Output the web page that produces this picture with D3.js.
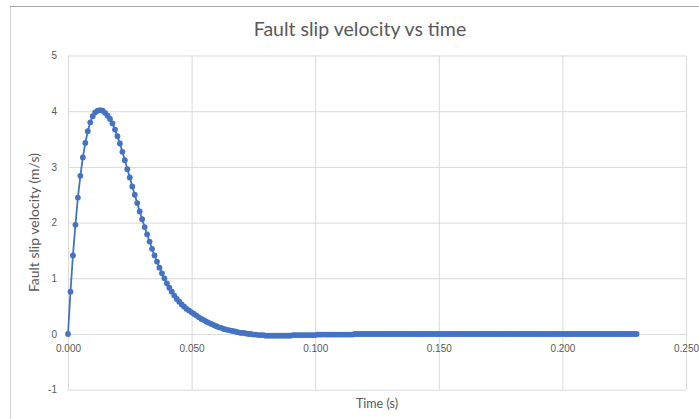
<!doctype html>
<html>
  <head>
    <meta charset="utf-8">
    <style>
      body { margin: 0; background: #fff; }
      svg { font-family: Lato, 'Open Sans', sans-serif; }
      .grid line { stroke: #d9d9d9; }
      .grid path { display: none; }
      .lbl path, .lbl line { display: none; }
      .lbl text { fill: #595959; font-size: 10px; }
    </style>
    <script src="https://d3js.org/d3.v7.min.js"></script>
  </head>
  <body>
    <svg width="699" height="419"></svg>
    <script>
      // time in seconds, one sample per millisecond
      var timeStart = 0, timeStep = 0.001;
      var velocity = [
        0, 0.76, 1.41, 1.96, 2.45, 2.84, 3.17, 3.43, 3.64, 3.80,
        3.91, 3.98, 4.01, 4.02, 4.01, 3.97, 3.92, 3.86, 3.78, 3.67,
        3.55, 3.42, 3.27, 3.12, 2.96, 2.81, 2.65, 2.50, 2.35, 2.20,
        2.06, 1.92, 1.79, 1.66, 1.53, 1.41, 1.30, 1.19, 1.09, 1.00,
        0.91, 0.83, 0.76, 0.69, 0.63, 0.58, 0.53, 0.49, 0.45, 0.42,
        0.39, 0.36, 0.33, 0.30, 0.27, 0.25, 0.22, 0.20, 0.18, 0.16,
        0.14, 0.12, 0.11, 0.09, 0.08, 0.07, 0.06, 0.05, 0.04, 0.03,
        0.02, 0.02, 0.01, 0.00, 0.00, -0.01, -0.01, -0.02, -0.02, -0.02,
        -0.03, -0.03, -0.03, -0.03, -0.03, -0.03, -0.03, -0.03, -0.03, -0.03,
        -0.03, -0.02, -0.02, -0.02, -0.02, -0.02, -0.02, -0.02, -0.02, -0.02,
        -0.02, -0.01, -0.01, -0.01, -0.01, -0.01, -0.01, -0.01, -0.01, -0.01,
        -0.01, -0.01, -0.01, -0.01, -0.01, -0.01, 0.00, 0.00, 0.00, 0.00,
        0.00, 0.00, 0.00, 0.00, 0.00, 0.00, 0.00, 0.00, 0.00, 0.00,
        0.00, 0.00, 0.00, 0.00, 0.00, 0.00, 0.00, 0.00, 0.00, 0.00,
        0.00, 0.00, 0.00, 0.00, 0.00, 0.00, 0.00, 0.00, 0.00, 0.00,
        0.00, 0.00, 0.00, 0.00, 0.00, 0.00, 0.00, 0.00, 0.00, 0.00,
        0.00, 0.00, 0.00, 0.00, 0.00, 0.00, 0.00, 0.00, 0.00, 0.00,
        0.00, 0.00, 0.00, 0.00, 0.00, 0.00, 0.00, 0.00, 0.00, 0.00,
        0.00, 0.00, 0.00, 0.00, 0.00, 0.00, 0.00, 0.00, 0.00, 0.00,
        0.00, 0.00, 0.00, 0.00, 0.00, 0.00, 0.00, 0.00, 0.00, 0.00,
        0.00, 0.00, 0.00, 0.00, 0.00, 0.00, 0.00, 0.00, 0.00, 0.00,
        0.00, 0.00, 0.00, 0.00, 0.00, 0.00, 0.00, 0.00, 0.00, 0.00,
        0.00, 0.00, 0.00, 0.00, 0.00, 0.00, 0.00, 0.00, 0.00, 0.00,
        0.00
      ];
      var xTicks = [0, 0.05, 0.1, 0.15, 0.2, 0.25];
      var yTicks = [-1, 0, 1, 2, 3, 4, 5];

      var data = velocity.map(function(v, i) {
        return { t: timeStart + i * timeStep, v: v };
      });

      var svg = d3.select("svg");
      var plotLeft = 68, plotRight = 686, plotTop = 55.5, plotBottom = 389.7;

      var x = d3.scaleLinear().domain([0, 0.25]).range([plotLeft, plotRight]);
      var y = d3.scaleLinear().domain([-1, 5]).range([plotBottom, plotTop]);

      // outer chart border
      svg.append("rect")
        .attr("x", 10.5).attr("y", 6.5)
        .attr("width", 720).attr("height", 460)
        .attr("fill", "none").attr("stroke", "#d0d0d0");
      svg.append("line")
        .attr("x1", 10).attr("x2", 699).attr("y1", 6.5).attr("y2", 6.5)
        .attr("stroke", "#a6a6a6");

      // gridlines
      svg.append("g").attr("class", "grid")
        .attr("transform", "translate(0," + plotBottom + ")")
        .call(d3.axisBottom(x).tickValues(xTicks).tickSize(-(plotBottom - plotTop)).tickFormat(""));
      svg.append("g").attr("class", "grid")
        .attr("transform", "translate(" + plotLeft + ",0)")
        .call(d3.axisLeft(y).tickValues(yTicks).tickSize(-(plotRight - plotLeft)).tickFormat(""));

      // tick labels
      svg.append("g").attr("class", "lbl")
        .attr("transform", "translate(0," + y(0) + ")")
        .call(d3.axisBottom(x).tickValues(xTicks).tickSize(0).tickPadding(11)
              .tickFormat(d3.format(".3f")));
      svg.append("g").attr("class", "lbl")
        .attr("transform", "translate(" + plotLeft + ",0)")
        .call(d3.axisLeft(y).tickValues(yTicks).tickSize(0).tickPadding(11)
              .tickFormat(function(d){ return String(d); }));

      // series
      var line = d3.line().x(function(d){ return x(d.t); }).y(function(d){ return y(d.v); });
      svg.append("path").datum(data)
        .attr("d", line)
        .attr("fill", "none").attr("stroke", "#4472c4").attr("stroke-width", 1.8);
      svg.append("g").selectAll("circle")
        .data(data)
        .enter().append("circle")
        .attr("cx", function(d){ return x(d.t); })
        .attr("cy", function(d){ return y(d.v); })
        .attr("r", 2.9)
        .attr("fill", "#4472c4");

      // titles
      svg.append("text")
        .attr("x", 360).attr("y", 36)
        .attr("text-anchor", "middle")
        .attr("fill", "#595959").attr("font-size", 19.5)
        .text("Fault slip velocity vs time");
      svg.append("text")
        .attr("x", (plotLeft + plotRight) / 2).attr("y", 408)
        .attr("text-anchor", "middle")
        .attr("fill", "#595959").attr("font-size", 12.5)
        .text("Time (s)");
      svg.append("text")
        .attr("transform", "translate(39," + ((plotTop + plotBottom) / 2) + ") rotate(-90)")
        .attr("text-anchor", "middle")
        .attr("fill", "#595959").attr("font-size", 14)
        .text("Fault slip velocity (m/s)");
    </script>
  </body>
</html>
